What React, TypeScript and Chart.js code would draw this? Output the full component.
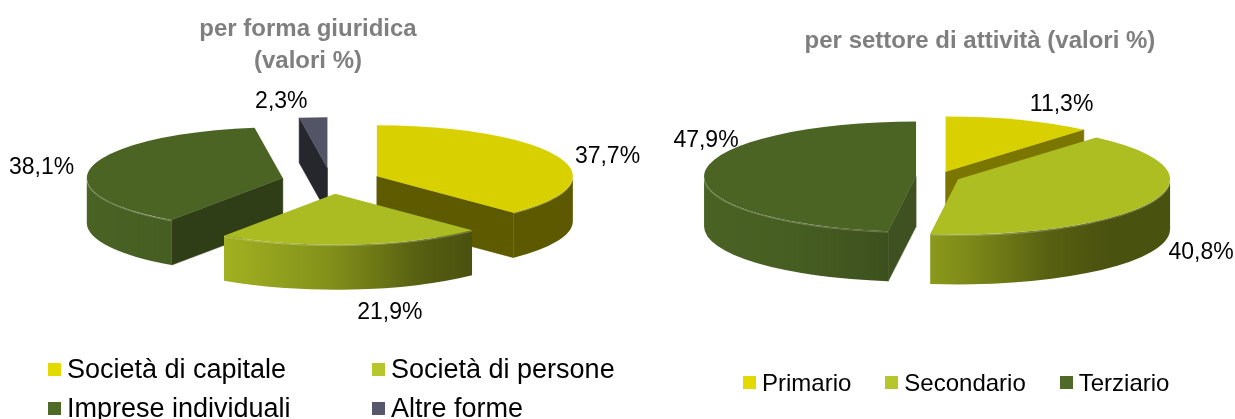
import React, { useEffect, useRef } from 'react';
import { Chart, registerables } from 'chart.js';

Chart.register(...registerables);

// ---- data ----
const formLabels = ['Società di capitale', 'Società di persone', 'Imprese individuali', 'Altre forme'];
const formValues = [37.7, 21.9, 38.1, 2.3];
const sectorLabels = ['Primario', 'Secondario', 'Terziario'];
const sectorValues = [11.3, 40.8, 47.9];

// ---- styles ----
const formTop = ['#D9D000', '#ABBC22', '#4B6424', '#535566'];
const formFace = ['#5E5A00', '#6A7A14', '#2F3E16', '#25272D'];
const formLegend = ['#E3DB00', '#B7C62A', '#4F6A28', '#56576B'];
const sectorTop = ['#D8D000', '#ADBE22', '#4B6424'];
const sectorFace = ['#7A7600', '#5E6A12', '#3F5120'];
const sectorLegend = ['#E3DB00', '#B7C62A', '#4F6A28'];
const formLabelNudge = [[5, 6], [34, 7], [-4, 5], [-29, 0]];
const sectorLabelNudge = [[26, 0], [6, -6], [49, -31]];

const FONT = "'Liberation Sans', Arial, sans-serif";

const SHADE: number[][] = [[0, 0.43], [46, 0.43], [64, 0.5], [90, 0.75], [97, 0.8], [124, 0.94], [180, 1]];
function shade(deg: number) {
  if (deg <= SHADE[0][0]) return SHADE[0][1];
  for (let i = 1; i < SHADE.length; i++) {
    if (deg <= SHADE[i][0]) {
      const [d0, f0] = SHADE[i - 1];
      const [d1, f1] = SHADE[i];
      return f0 + ((deg - d0) / (d1 - d0)) * (f1 - f0);
    }
  }
  return SHADE[SHADE.length - 1][1];
}
function scaleColor(hex: string, f: number) {
  const n = parseInt(hex.slice(1), 16);
  const r = Math.round(((n >> 16) & 255) * f);
  const g = Math.round(((n >> 8) & 255) * f);
  const b = Math.round((n & 255) * f);
  return `rgb(${r},${g},${b})`;
}
const fmt = (v: number) => v.toFixed(1).replace('.', ',') + '%';

type Cfg = { tilt: number; depth: number; explode: number; faces: string[]; nudges: number[][]; gap: number; font: string };

function makePie3d(cfg: Cfg) {
  const geom = (chart: any) => {
    const meta = chart.getDatasetMeta(0);
    const ds = chart.data.datasets[0];
    return meta.data.map((arc: any, i: number) => {
      const p = arc.getProps(['x', 'y', 'startAngle', 'endAngle', 'outerRadius'], true);
      const mid = (p.startAngle + p.endAngle) / 2;
      return {
        i,
        a0: p.startAngle,
        a1: p.endAngle,
        R: p.outerRadius,
        mid,
        cx: p.x + cfg.explode * Math.cos(mid),
        cy: p.y + cfg.explode * cfg.tilt * Math.sin(mid),
        top: ds.backgroundColor[i] as string,
        face: cfg.faces[i],
        value: ds.data[i] as number,
      };
    });
  };
  return {
    id: 'pie3d',
    beforeDatasetsDraw(chart: any) {
      const ctx: CanvasRenderingContext2D = chart.ctx;
      const k = cfg.tilt;
      const h = cfg.depth;
      const slices = geom(chart);
      const order = [...slices].sort((a, b) => Math.sin(a.mid) - Math.sin(b.mid));
      ctx.save();
      for (const s of order) {
        const ry = s.R * k;
        const face = (a: number) => {
          const ex = s.cx + s.R * Math.cos(a);
          const ey = s.cy + ry * Math.sin(a);
          ctx.beginPath();
          ctx.moveTo(s.cx, s.cy);
          ctx.lineTo(ex, ey);
          ctx.lineTo(ex, ey + h);
          ctx.lineTo(s.cx, s.cy + h);
          ctx.closePath();
          ctx.fillStyle = s.face;
          ctx.fill();
          ctx.strokeStyle = s.face;
          ctx.lineWidth = 0.6;
          ctx.stroke();
        };
        if (Math.cos(s.a0) < -1e-6) face(s.a0);
        if (Math.cos(s.a1) > 1e-6) face(s.a1);
        const ts = Math.max(s.a0, 0);
        const te = Math.min(s.a1, Math.PI);
        if (te > ts + 1e-4) {
          const xl = s.cx + s.R * Math.cos(te);
          const xr = s.cx + s.R * Math.cos(ts);
          const g = ctx.createLinearGradient(xl, 0, xr, 0);
          for (let j = 0; j <= 16; j++) {
            const p = j / 16;
            const x = xl + p * (xr - xl);
            const c = Math.max(-1, Math.min(1, (x - s.cx) / s.R));
            const t = Math.acos(c);
            g.addColorStop(p, scaleColor(s.top, shade((t * 180) / Math.PI)));
          }
          ctx.beginPath();
          ctx.ellipse(s.cx, s.cy, s.R, ry, 0, ts, te, false);
          ctx.lineTo(s.cx + s.R * Math.cos(te), s.cy + ry * Math.sin(te) + h);
          ctx.ellipse(s.cx, s.cy + h, s.R, ry, 0, te, ts, true);
          ctx.closePath();
          ctx.fillStyle = g;
          ctx.fill();
        }
      }
      for (const s of slices) {
        const ry = s.R * k;
        ctx.beginPath();
        ctx.moveTo(s.cx, s.cy);
        ctx.ellipse(s.cx, s.cy, s.R, ry, 0, s.a0, s.a1, false);
        ctx.closePath();
        ctx.fillStyle = s.top;
        ctx.fill();
        // faint highlight on the front rim
        const ts = Math.max(s.a0, 0);
        const te = Math.min(s.a1, Math.PI);
        if (te > ts + 1e-4) {
          ctx.beginPath();
          ctx.ellipse(s.cx, s.cy + 0.8, s.R, ry, 0, ts, te, false);
          ctx.strokeStyle = 'rgba(255,255,255,0.22)';
          ctx.lineWidth = 1.2;
          ctx.stroke();
        }
      }
      ctx.restore();
      return false;
    },
    afterDraw(chart: any) {
      const ctx: CanvasRenderingContext2D = chart.ctx;
      const k = cfg.tilt;
      const h = cfg.depth;
      const slices = geom(chart);
      ctx.save();
      ctx.font = cfg.font;
      ctx.fillStyle = '#000000';
      ctx.textAlign = 'center';
      ctx.textBaseline = 'middle';
      for (const s of slices) {
        const text = fmt(s.value);
        const w = ctx.measureText(text).width;
        const r = s.R + cfg.gap;
        const c = Math.cos(s.mid);
        const sn = Math.sin(s.mid);
        let x = s.cx + r * c + (c * w) / 2;
        let y = s.cy + k * r * sn + (sn > 0 ? h : 0) + sn * 12;
        const n = cfg.nudges[s.i] || [0, 0];
        x += n[0];
        y += n[1];
        ctx.fillText(text, x, y);
      }
      ctx.restore();
    },
  };
}

function makeChart(canvas: HTMLCanvasElement, labels: string[], values: number[], colors: string[], radius: number, padding: any, cfg: Cfg) {
  return new Chart(canvas, {
    type: 'pie',
    data: {
      labels,
      datasets: [
        {
          data: values,
          backgroundColor: colors,
          borderWidth: 0,
          radius,
        } as any,
      ],
    },
    options: {
      animation: false,
      responsive: false,
      layout: { padding },
      rotation: 0,
      plugins: {
        legend: { display: false },
        title: { display: false },
        tooltip: { enabled: false },
      },
    },
    plugins: [makePie3d(cfg) as any],
  });
}

const legendItem = (label: string, color: string, fontSize: number, lineH: number, boxTop: number) => (
  <div
    key={label}
    style={{
      position: 'relative',
      height: lineH,
      lineHeight: `${lineH}px`,
      paddingLeft: 19,
      fontSize,
      whiteSpace: 'nowrap',
      color: '#000',
    }}
  >
    <span style={{ position: 'absolute', left: 0, top: boxTop, width: 13, height: 13, background: color }} />
    {label}
  </div>
);

export default function App() {
  const leftRef = useRef<HTMLCanvasElement>(null);
  const rightRef = useRef<HTMLCanvasElement>(null);

  useEffect(() => {
    const labelFont = `23px ${FONT}`;
    const c1 = makeChart(leftRef.current!, formLabels, formValues, formTop, 196, { left: 2, right: 0, top: 0, bottom: 57 }, {
      tilt: 0.26,
      depth: 45,
      explode: 49.5,
      faces: formFace,
      nudges: formLabelNudge,
      gap: 15,
      font: labelFont,
    });
    const c2 = makeChart(rightRef.current!, sectorLabels, sectorValues, sectorTop, 212, { left: 21, right: 0, top: 0, bottom: 65 }, {
      tilt: 0.26,
      depth: 50,
      explode: 22,
      faces: sectorFace,
      nudges: sectorLabelNudge,
      gap: 15,
      font: labelFont,
    });
    return () => {
      c1.destroy();
      c2.destroy();
    };
  }, []);

  const titleStyle: React.CSSProperties = {
    position: 'absolute',
    fontWeight: 'bold',
    fontSize: 24,
    lineHeight: '32px',
    color: '#7F7F7F',
    textAlign: 'center',
    whiteSpace: 'nowrap',
  };

  return (
    <div
      style={{
        position: 'absolute',
        left: 0,
        top: 0,
        width: 1235,
        height: 419,
        background: '#ffffff',
        overflow: 'hidden',
        fontFamily: FONT,
      }}
    >
      <canvas ref={leftRef} width={660} height={419} style={{ position: 'absolute', left: 0, top: 0, display: 'block' }} />
      <canvas ref={rightRef} width={615} height={419} style={{ position: 'absolute', left: 620, top: 0, display: 'block' }} />
      <div style={{ ...titleStyle, left: 8, width: 600, top: 12 }}>
        per forma giuridica
        <br />
        (valori %)
      </div>
      <div style={{ ...titleStyle, left: 680, width: 600, top: 24 }}>per settore di attività (valori %)</div>
      <div
        style={{
          position: 'absolute',
          left: 48,
          top: 350,
          display: 'grid',
          gridTemplateColumns: '324px 324px',
        }}
      >
        {formLabels.map((l, i) => legendItem(l, formLegend[i], 27, 39, 13))}
      </div>
      <div
        style={{
          position: 'absolute',
          left: 743,
          top: 368,
          display: 'flex',
          gap: 34,
        }}
      >
        {sectorLabels.map((l, i) => legendItem(l, sectorLegend[i], 24, 30, 8))}
      </div>
    </div>
  );
}
